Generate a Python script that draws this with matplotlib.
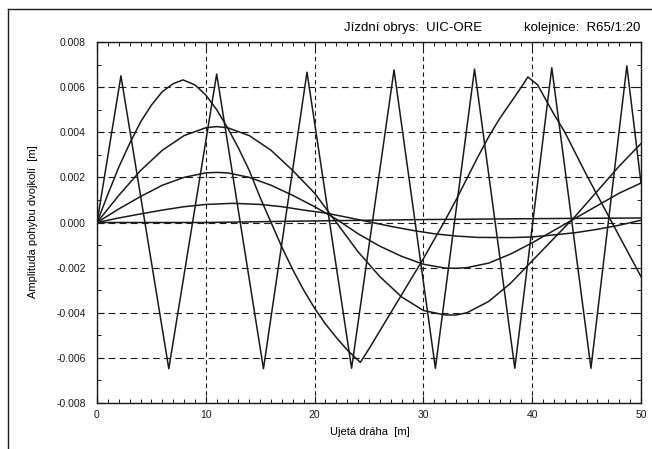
#!/usr/bin/env python3
"""Amplituda pohybu dvojkoli vs. ujeta draha (UIC-ORE, R65/1:20)."""

import matplotlib
matplotlib.use("Agg")
import matplotlib.pyplot as plt
from matplotlib.lines import Line2D
from matplotlib.ticker import MultipleLocator, FormatStrFormatter

plt.rcParams["font.family"] = ["Liberation Sans", "DejaVu Sans"]
plt.rcParams["axes.unicode_minus"] = False

# values in mm, converted to m when drawn
zig_x = [0, 2.2, 6.6, 11.0, 15.3, 19.3, 23.4, 27.3, 31.1, 34.7, 38.4, 41.8, 45.4, 48.7, 50]
zig_y = [0, 6.5, -6.48, 6.58, -6.48, 6.66, -6.46, 6.76, -6.46, 6.8, -6.46, 6.86, -6.46, 6.94, 1.75]

big_x = [0, 1, 2, 3, 4, 5, 6, 7, 7.9, 9, 10, 11, 12, 13, 14, 15, 16, 17, 18, 19, 20,
         21, 22, 23, 24.2, 25, 26, 27, 28, 29, 30, 31, 32, 33, 34, 35, 36, 37, 38, 39,
         39.6, 40.5, 41.3, 42, 43, 44, 45, 46, 47, 48, 49, 50]
big_y = [0, 1.25, 2.45, 3.5, 4.45, 5.2, 5.8, 6.15, 6.32, 6.1, 5.65, 5.0, 4.2, 3.3, 2.3,
         1.1, 0.0, -1.1, -2.1, -3.0, -3.8, -4.5, -5.1, -5.65, -6.2, -5.6, -4.8, -4.0,
         -3.2, -2.4, -1.6, -0.75, 0.1, 1.0, 1.95, 2.9, 3.8, 4.6, 5.3, 6.0, 6.45, 6.1,
         5.4, 4.8, 4.0, 3.05, 2.1, 1.2, 0.3, -0.6, -1.5, -2.4]

mid_x = [0, 2, 4, 6, 8, 10, 11, 12, 14, 16, 18, 20, 22, 24, 26, 28, 30, 32, 33, 34,
         36, 38, 40, 42, 44, 46, 48, 50]
a42_y = [0, 1.2, 2.3, 3.2, 3.85, 4.2, 4.25, 4.2, 3.85, 3.2, 2.3, 1.3, 0.0, -1.3, -2.4,
         -3.3, -3.9, -4.1, -4.1, -4.0, -3.5, -2.7, -1.7, -0.7, 0.3, 1.4, 2.5, 3.5]
a22_y = [0, 0.6, 1.15, 1.65, 2.0, 2.2, 2.22, 2.2, 2.0, 1.65, 1.2, 0.7, 0.15, -0.5,
         -1.05, -1.5, -1.85, -2.02, -2.03, -2.0, -1.8, -1.4, -0.9, -0.35, 0.2, 0.75,
         1.3, 1.75]

low_x = [0, 2, 4, 6, 8, 10, 12.5, 15, 17, 19, 21, 23, 25, 27, 29, 31, 33, 35, 38, 40,
         42, 44, 46, 48, 50]
low_y = [0, 0.2, 0.38, 0.55, 0.7, 0.8, 0.85, 0.8, 0.7, 0.55, 0.42, 0.23, 0.03, -0.17,
         -0.35, -0.5, -0.6, -0.66, -0.67, -0.64, -0.55, -0.45, -0.3, -0.12, 0.1]

flat_x = [0, 10, 20, 30, 40, 50]
flat_y = [0, 0.0, 0.07, 0.13, 0.17, 0.2]

W, H = 652, 449

fig = plt.figure(figsize=(W / 100, H / 100), dpi=100)
ax = fig.add_axes([97 / W, 1 - 403 / H, 544 / W, 361 / H])

line_kw = dict(color="#1a1a1a", linewidth=1.1, zorder=3)
for xs, ys in [(zig_x, zig_y), (big_x, big_y), (mid_x, a42_y), (mid_x, a22_y),
               (low_x, low_y), (flat_x, flat_y)]:
    ax.plot(xs, [v / 1000 for v in ys], **line_kw)

ax.set_xlim(0, 50)
ax.set_ylim(-0.008, 0.008)
ax.xaxis.set_major_locator(MultipleLocator(10))
ax.xaxis.set_minor_locator(MultipleLocator(1))
ax.yaxis.set_major_locator(MultipleLocator(0.002))
ax.yaxis.set_minor_locator(MultipleLocator(0.001))
ax.yaxis.set_major_formatter(FormatStrFormatter("%.3f"))

ax.tick_params(which="both", direction="in", top=True, right=True, colors="#1a1a1a")
ax.tick_params(which="major", length=5, width=0.8, labelsize=7.5)
ax.tick_params(axis="x", which="major", pad=5)
ax.tick_params(axis="y", which="major", pad=8)
ax.tick_params(which="minor", length=3, width=0.7)

ax.grid(True, axis="y", which="major", color="#1a1a1a", linestyle=(0, (6, 4)), linewidth=0.8)
ax.grid(True, axis="x", which="major", color="#1a1a1a", linestyle=(0, (4, 3)), linewidth=0.8)
for s in ax.spines.values():
    s.set_linewidth(1.0)
    s.set_color("#1a1a1a")

fig.text(33 / W, 1 - 221.5 / H, "Amplituda pohybu dvojkolí  [m]", rotation=90,
         ha="center", va="center", fontsize=8)
fig.text(370 / W, 1 - 432 / H, "Ujetá dráha  [m]", ha="center", va="center", fontsize=8)
fig.text(482 / W, 1 - 28 / H, "Jízdní obrys:  UIC-ORE", ha="right", va="center", fontsize=9.5)
fig.text(640 / W, 1 - 28 / H, "kolejnice:  R65/1:20", ha="right", va="center", fontsize=9.5)

# outer frame (top and left edges visible in the scan)
fig.add_artist(Line2D([8 / W, 1], [1 - 9 / H, 1 - 9 / H], transform=fig.transFigure,
                      color="#1a1a1a", linewidth=1.0))
fig.add_artist(Line2D([8 / W, 8 / W], [1 - 9 / H, 0], transform=fig.transFigure,
                      color="#1a1a1a", linewidth=1.0))

fig.savefig("out.png", dpi=100)
